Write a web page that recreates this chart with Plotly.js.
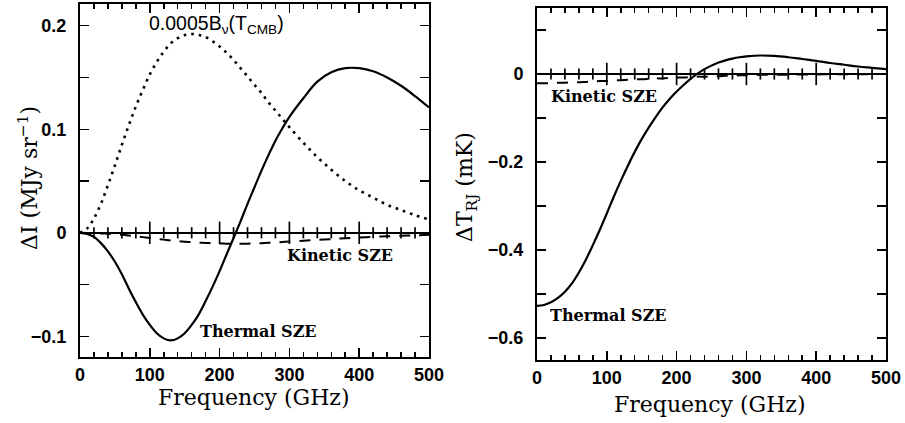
<!DOCTYPE html>
<html>
<head>
<meta charset="utf-8">
<script src="https://cdn.plot.ly/plotly-3.0.1.min.js"></script>
<style>html,body{margin:0;padding:0;background:#fff;}#chart{width:905px;height:423px;}</style>
</head>
<body>
<div id="chart"></div>
<script>
// Frequency grid (GHz)
const freq = [0,10,20,30,40,50,60,70,80,90,100,110,120,130,140,150,160,170,180,190,200,210,220,230,240,250,260,270,280,290,300,320,340,360,380,400,420,440,460,480,500];

// Left panel: Delta I (MJy sr^-1)
const thermalDI = [0,-0.001,-0.004,-0.010,-0.018,-0.028,-0.040,-0.054,-0.067,-0.079,-0.089,-0.097,-0.102,-0.104,-0.102,-0.097,-0.089,-0.079,-0.066,-0.052,-0.037,-0.021,-0.005,0.011,0.028,0.044,0.060,0.075,0.089,0.101,0.112,0.130,0.146,0.155,0.159,0.159,0.156,0.150,0.142,0.132,0.121];
const cmbDI = [0,0.004,0.014,0.028,0.046,0.065,0.085,0.104,0.122,0.138,0.153,0.165,0.175,0.183,0.188,0.191,0.192,0.191,0.189,0.185,0.180,0.174,0.167,0.159,0.151,0.143,0.135,0.126,0.118,0.110,0.102,0.087,0.073,0.061,0.050,0.041,0.034,0.027,0.022,0.017,0.013];
const kineticDI = [0,-0.0001,-0.0003,-0.0006,-0.001,-0.0015,-0.002,-0.0027,-0.0035,-0.0042,-0.005,-0.0058,-0.0066,-0.0074,-0.0080,-0.0086,-0.0091,-0.0095,-0.0098,-0.0101,-0.0103,-0.0105,-0.0106,-0.0106,-0.0105,-0.0103,-0.0100,-0.0097,-0.0093,-0.0089,-0.0085,-0.0077,-0.0069,-0.0061,-0.0053,-0.0046,-0.0040,-0.0034,-0.0029,-0.0024,-0.0020];

// Right panel: Delta T_RJ (mK)
const thermalDT = [-0.527,-0.525,-0.519,-0.509,-0.495,-0.476,-0.451,-0.422,-0.389,-0.354,-0.317,-0.279,-0.243,-0.209,-0.177,-0.148,-0.122,-0.098,-0.076,-0.057,-0.040,-0.025,-0.011,0.001,0.011,0.019,0.026,0.031,0.035,0.038,0.040,0.042,0.041,0.038,0.034,0.030,0.025,0.021,0.017,0.014,0.011];
const kineticDT = [-0.021,-0.021,-0.021,-0.020,-0.020,-0.019,-0.019,-0.018,-0.017,-0.016,-0.016,-0.015,-0.014,-0.013,-0.012,-0.012,-0.011,-0.010,-0.010,-0.009,-0.008,-0.008,-0.007,-0.006,-0.006,-0.005,-0.005,-0.004,-0.004,-0.003,-0.003,-0.002,-0.002,-0.0015,-0.001,-0.001,-0.0007,-0.0005,-0.0004,-0.0003,-0.0002];

// Tick positions along the zero line (GHz)
const majorTicks = [100,200,300,400];
const minorTicks = [20,40,60,80,120,140,160,180,220,240,260,280,320,340,360,380,420,440,460,480];

// Axis ranges
const xRange = [0, 500];
const yRangeLeft = [-0.120, 0.221];
const yRangeRight = [-0.65, 0.15];

const black = '#000';
const tickFont = {family: 'Liberation Sans, Arial, sans-serif', size: 18, color: black, weight: 'bold'};
const titleFont = {family: 'DejaVu Serif, serif', size: 22, color: black};
const labelFont = {family: 'DejaVu Serif, serif', size: 16, color: black, weight: 'bold'};

const dLeftX = [0, 0.433], dRightX = [0.567, 1.0];
const dLeftY = [0.0084, 1.0], dRightY = [0.0, 0.9888];

function zeroTicks(vals, xa, ya, size) {
  return {x: vals, y: vals.map(() => 0), xaxis: xa, yaxis: ya, mode: 'markers',
    marker: {symbol: 'line-ns', size: size, color: black, line: {color: black, width: 1.7}},
    hoverinfo: 'skip', showlegend: false, cliponaxis: false};
}

const traces = [
  zeroTicks(majorTicks, 'x', 'y', 16),
  zeroTicks(minorTicks, 'x', 'y', 8),
  zeroTicks(majorTicks, 'x2', 'y2', 16),
  zeroTicks(minorTicks, 'x2', 'y2', 8),
  {x: freq, y: thermalDI, xaxis: 'x', yaxis: 'y', mode: 'lines', line: {color: black, width: 2.2, shape: 'spline'}, hoverinfo: 'skip', showlegend: false},
  {x: freq, y: cmbDI, xaxis: 'x', yaxis: 'y', mode: 'lines', line: {color: black, width: 2.6, dash: '2.6px,5px', shape: 'spline'}, hoverinfo: 'skip', showlegend: false},
  {x: freq, y: kineticDI, xaxis: 'x', yaxis: 'y', mode: 'lines', line: {color: black, width: 2, dash: '11px,9px', shape: 'spline'}, hoverinfo: 'skip', showlegend: false},
  {x: freq, y: thermalDT, xaxis: 'x2', yaxis: 'y2', mode: 'lines', line: {color: black, width: 2.2, shape: 'spline'}, hoverinfo: 'skip', showlegend: false},
  {x: freq, y: kineticDT, xaxis: 'x2', yaxis: 'y2', mode: 'lines', line: {color: black, width: 2, dash: '11px,9px', shape: 'spline'}, hoverinfo: 'skip', showlegend: false}
];

function frameX(dom, anchor) {
  return {domain: dom, anchor: anchor, range: xRange, showline: true, linewidth: 2, linecolor: black, mirror: 'ticks',
    ticks: 'inside', ticklen: 9, tickwidth: 1.5, tickcolor: black, dtick: 100, tick0: 0,
    minor: {ticks: 'inside', ticklen: 5, tickwidth: 1.5, tickcolor: black, dtick: 20},
    showgrid: false, zeroline: false, tickfont: tickFont, ticklabelstandoff: 0, fixedrange: true};
}
function frameY(dom, anchor, rng, dt, mdt) {
  return {domain: dom, anchor: anchor, range: rng, showline: true, linewidth: 2, linecolor: black, mirror: 'ticks',
    ticks: 'inside', ticklen: 9, tickwidth: 1.5, tickcolor: black, dtick: dt, tick0: 0,
    minor: {ticks: 'inside', ticklen: 9, tickwidth: 1.5, tickcolor: black, dtick: mdt},
    showgrid: false, zeroline: true, zerolinecolor: black, zerolinewidth: 1.6,
    tickfont: tickFont, ticklabelstandoff: 8, fixedrange: true};
}

const layout = {
  width: 905, height: 423,
  margin: {l: 80, r: 19, t: 4, b: 63},
  paper_bgcolor: '#fff', plot_bgcolor: 'rgba(0,0,0,0)',
  showlegend: false,
  xaxis: frameX(dLeftX, 'y'),
  yaxis: frameY(dLeftY, 'x', yRangeLeft, 0.1, 0.05),
  xaxis2: frameX(dRightX, 'y2'),
  yaxis2: frameY(dRightY, 'x2', yRangeRight, 0.2, 0.1),
  annotations: [
    {text: 'Frequency (GHz)', xref: 'paper', yref: 'paper', x: (254 - 80) / 806, y: (360 - 397) / 356, xanchor: 'center', yanchor: 'middle', showarrow: false, font: titleFont},
    {text: 'Frequency (GHz)', xref: 'paper', yref: 'paper', x: (710 - 80) / 806, y: (360 - 404) / 356, xanchor: 'center', yanchor: 'middle', showarrow: false, font: titleFont},
    {text: 'ΔI (MJy sr<sup>−1</sup>)', xref: 'paper', yref: 'paper', x: (28 - 80) / 806, y: (360 - 178) / 356, xanchor: 'center', yanchor: 'middle', textangle: -90, showarrow: false, font: titleFont},
    {text: 'ΔT<sub>RJ</sub> (mK)', xref: 'paper', yref: 'paper', x: (466 - 80) / 806, y: (360 - 187) / 356, xanchor: 'center', yanchor: 'middle', textangle: -90, showarrow: false, font: titleFont},
    {text: '0.0005B<sub>ν</sub>(T<sub>CMB</sub>)', xref: 'x', yref: 'y', x: 196, y: 0.201, xanchor: 'center', yanchor: 'middle', showarrow: false, font: {family: 'Liberation Sans, Arial, sans-serif', size: 19.5, color: black}},
    {text: 'Kinetic SZE', xref: 'x', yref: 'y', x: 372, y: -0.0215, xanchor: 'center', yanchor: 'middle', showarrow: false, font: labelFont},
    {text: 'Thermal SZE', xref: 'x', yref: 'y', x: 256, y: -0.0958, xanchor: 'center', yanchor: 'middle', showarrow: false, font: labelFont},
    {text: 'Kinetic SZE', xref: 'x2', yref: 'y2', x: 96, y: -0.0516, xanchor: 'center', yanchor: 'middle', showarrow: false, font: labelFont},
    {text: 'Thermal SZE', xref: 'x2', yref: 'y2', x: 102.6, y: -0.548, xanchor: 'center', yanchor: 'middle', showarrow: false, font: labelFont}
  ]
};

Plotly.newPlot('chart', traces, layout, {displayModeBar: false, staticPlot: true});
</script>
</body>
</html>
